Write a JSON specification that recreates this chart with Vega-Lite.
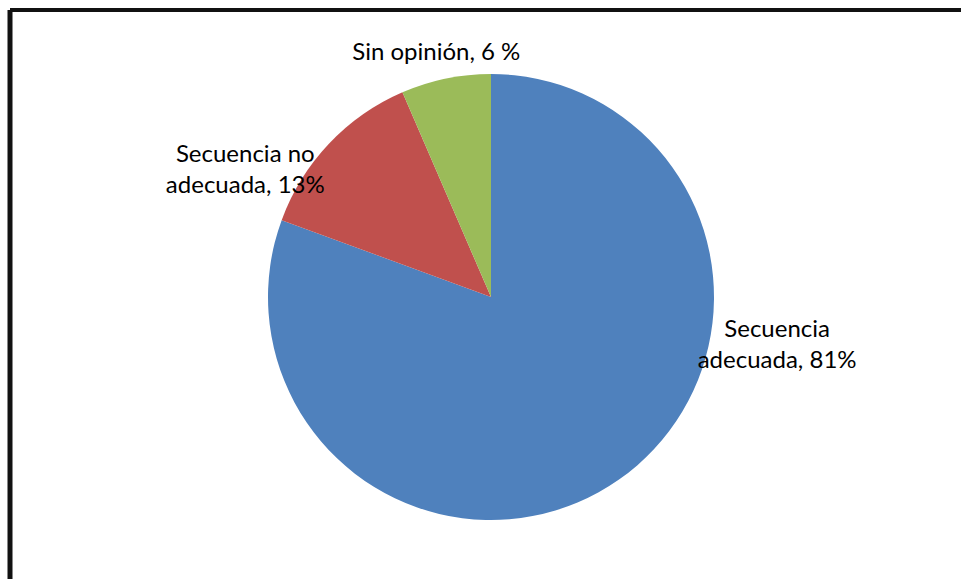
{
  "$schema": "https://vega.github.io/schema/vega-lite/v6.json",
  "width": 962,
  "height": 574,
  "autosize": {"type": "none"},
  "padding": {"left": 10, "top": 10, "right": -11, "bottom": -5},
  "background": "white",
  "config": {
    "view": {"stroke": null},
    "text": {"font": "Lato", "fontSize": 24, "color": "black", "lineBreak": "\n", "lineHeight": 31, "align": "center", "baseline": "middle"}
  },
  "data": {
    "values": [
      {"categoria": "Secuencia adecuada", "porcentaje": 80.6, "etiqueta": "Secuencia\nadecuada, 81%"},
      {"categoria": "Secuencia no adecuada", "porcentaje": 12.9, "etiqueta": "Secuencia no\nadecuada, 13%"},
      {"categoria": "Sin opinión", "porcentaje": 6.5, "etiqueta": "Sin opinión, 6 %"}
    ]
  },
  "layer": [
    {
      "data": {"values": [{"marco": "borde"}]},
      "mark": {"type": "rule", "color": "#111111", "strokeWidth": 5},
      "encoding": {"x": {"value": 0}, "y": {"value": 0}, "y2": {"value": 569}}
    },
    {
      "data": {"values": [{"marco": "borde"}]},
      "mark": {"type": "rule", "color": "#111111", "strokeWidth": 4},
      "encoding": {"y": {"value": 0}, "x": {"value": 0}, "x2": {"value": 951}}
    },
    {
      "mark": {"type": "arc", "outerRadius": 223},
      "encoding": {
        "theta": {"field": "porcentaje", "type": "quantitative", "stack": true},
        "order": {"field": "categoria", "type": "ordinal", "sort": "ascending"},
        "color": {
          "field": "categoria",
          "type": "nominal",
          "scale": {
            "domain": ["Secuencia adecuada", "Secuencia no adecuada", "Sin opinión"],
            "range": ["#4f81bd", "#c0504d", "#9bbb59"]
          },
          "legend": null
        }
      }
    },
    {
      "mark": {"type": "text", "radius": 250, "dx": 143, "dy": -172},
      "encoding": {
        "theta": {"field": "porcentaje", "type": "quantitative", "stack": true},
        "order": {"field": "categoria", "type": "ordinal", "sort": "ascending"},
        "detail": {"field": "categoria", "type": "nominal"},
        "text": {"condition": {"test": "datum.categoria === 'Secuencia adecuada'", "field": "etiqueta", "type": "nominal"}, "value": ""}
      }
    },
    {
      "mark": {"type": "text", "radius": 250, "dx": -64, "dy": 30},
      "encoding": {
        "theta": {"field": "porcentaje", "type": "quantitative", "stack": true},
        "order": {"field": "categoria", "type": "ordinal", "sort": "ascending"},
        "detail": {"field": "categoria", "type": "nominal"},
        "text": {"condition": {"test": "datum.categoria === 'Secuencia no adecuada'", "field": "etiqueta", "type": "nominal"}, "value": ""}
      }
    },
    {
      "mark": {"type": "text", "radius": 250, "dx": -4, "dy": 1},
      "encoding": {
        "theta": {"field": "porcentaje", "type": "quantitative", "stack": true},
        "order": {"field": "categoria", "type": "ordinal", "sort": "ascending"},
        "detail": {"field": "categoria", "type": "nominal"},
        "text": {"condition": {"test": "datum.categoria === 'Sin opinión'", "field": "etiqueta", "type": "nominal"}, "value": ""}
      }
    }
  ]
}
